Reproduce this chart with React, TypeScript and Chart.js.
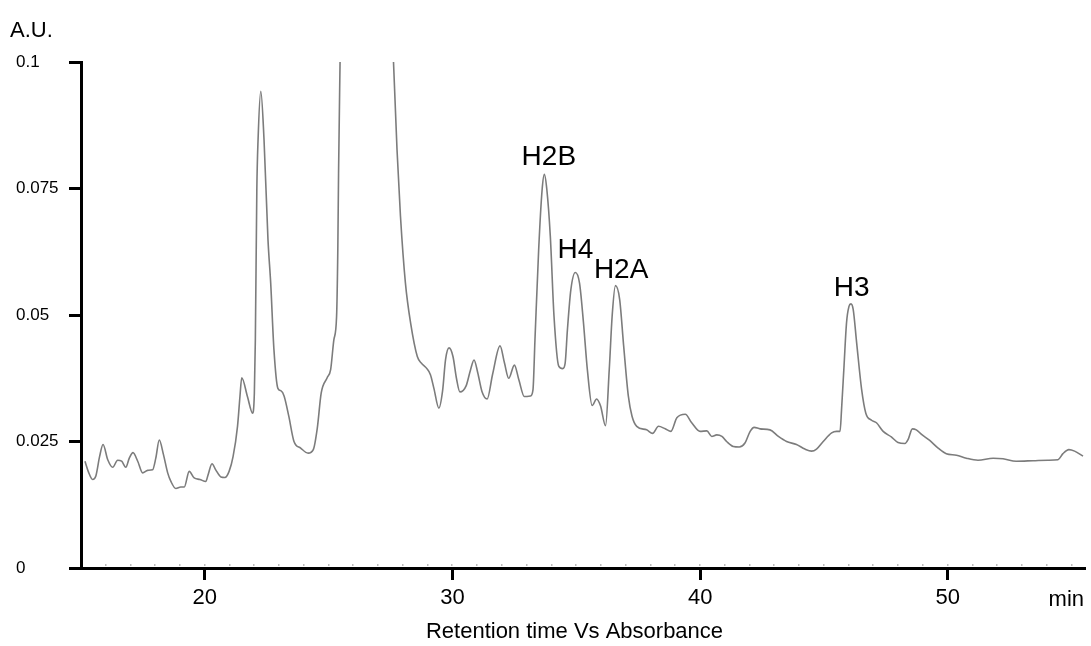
import React, { useEffect, useRef } from "react";
import { Chart, registerables } from "chart.js";

Chart.register(...registerables);

// Retention time (min)
const retentionTimes = [
  15.16, 15.3, 15.47, 15.6, 15.75, 15.89, 16.08, 16.28, 16.48, 16.64, 16.81, 16.95, 17.1, 17.29, 17.49, 17.69,
  17.89, 18.02, 18.16, 18.33, 18.5, 18.63, 18.83, 19.03, 19.17, 19.37, 19.57, 19.8, 20.04, 20.13, 20.29, 20.44,
  20.65, 20.81, 20.98, 21.14, 21.32, 21.42, 21.49, 21.72, 21.93, 22.0, 22.04, 22.1, 22.15, 22.26, 22.39, 22.55,
  22.66, 22.79, 22.95, 23.08, 23.2, 23.39, 23.6, 23.87, 24.17, 24.38, 24.54, 24.7, 24.94, 25.08, 25.21, 25.32,
  25.37, 25.4, 25.46, 25.55, 26.0, 26.5, 27.0, 27.45, 27.62, 27.76, 27.9, 28.1, 28.31, 28.58, 28.74, 28.95,
  29.11, 29.25, 29.45, 29.6, 29.72, 29.86, 30.02, 30.16, 30.3, 30.55, 30.73, 30.87, 31.02, 31.19, 31.4, 31.62,
  31.92, 32.1, 32.27, 32.5, 32.68, 32.9, 33.15, 33.25, 33.33, 33.48, 33.62, 33.71, 33.81, 33.95, 34.1, 34.29,
  34.45, 34.55, 34.64, 34.78, 34.96, 35.13, 35.28, 35.45, 35.64, 35.82, 35.98, 36.18, 36.33, 36.45, 36.58, 36.75,
  36.91, 37.1, 37.25, 37.44, 37.84, 38.08, 38.32, 38.59, 38.82, 39.06, 39.4, 39.66, 40.0, 40.27, 40.47, 40.67,
  40.88, 41.07, 41.34, 41.58, 41.81, 42.02, 42.18, 42.42, 42.82, 43.16, 43.49, 43.89, 44.23, 44.5, 44.7, 44.97,
  45.31, 45.51, 45.65, 45.71, 45.81, 45.91, 46.01, 46.09, 46.18, 46.32, 46.52, 46.69, 46.92, 47.12, 47.39, 47.72,
  47.99, 48.27, 48.4, 48.57, 48.73, 48.94, 49.27, 49.61, 49.94, 50.35, 50.75, 51.22, 51.83, 52.23, 52.76, 53.44,
  54.04, 54.45, 54.65, 54.89, 55.12, 55.46,
];

// Absorbance (A.U.)
const absorbance = [
  0.0211, 0.019, 0.0175, 0.0182, 0.022, 0.0244, 0.0214, 0.0199, 0.0213, 0.0211, 0.0199, 0.0217, 0.0228, 0.0211, 0.0188, 0.0193,
  0.0194, 0.0217, 0.0253, 0.0224, 0.0188, 0.0171, 0.0157, 0.016, 0.016, 0.0191, 0.0178, 0.0175, 0.0171, 0.0184, 0.0206, 0.0194,
  0.018, 0.0179, 0.0191, 0.022, 0.028, 0.034, 0.0376, 0.0339, 0.0306, 0.0346, 0.0451, 0.0748, 0.0847, 0.0942, 0.0847, 0.0649,
  0.0563, 0.0432, 0.0355, 0.035, 0.034, 0.03, 0.025, 0.0237, 0.0227, 0.0234, 0.0276, 0.0346, 0.0376, 0.0392, 0.0451, 0.0497,
  0.063, 0.078, 0.0998, 0.13, 0.19, 0.21, 0.18, 0.125, 0.0998, 0.0827, 0.0695, 0.0563, 0.0484, 0.0418, 0.0405, 0.0395,
  0.0382, 0.0355, 0.0316, 0.035, 0.0412, 0.0435, 0.0418, 0.0375, 0.0348, 0.036, 0.0392, 0.0411, 0.0386, 0.0349, 0.0334, 0.0383,
  0.0439, 0.0405, 0.0375, 0.0401, 0.0372, 0.0339, 0.034, 0.0352, 0.045, 0.0629, 0.0748, 0.0778, 0.0748, 0.0656, 0.0497, 0.0399,
  0.0394, 0.0405, 0.047, 0.055, 0.0584, 0.0563, 0.049, 0.039, 0.0321, 0.0334, 0.032, 0.0281, 0.0392, 0.05, 0.0558, 0.0531,
  0.044, 0.034, 0.03, 0.028, 0.0273, 0.0266, 0.028, 0.0275, 0.027, 0.0297, 0.0304, 0.0287, 0.027, 0.0271, 0.026, 0.0263,
  0.026, 0.025, 0.024, 0.0239, 0.0247, 0.027, 0.0278, 0.0275, 0.0273, 0.026, 0.025, 0.0244, 0.0235, 0.0231, 0.0235, 0.025,
  0.0267, 0.027, 0.027, 0.0313, 0.0399, 0.0484, 0.0517, 0.0522, 0.0511, 0.0445, 0.0353, 0.0306, 0.0292, 0.0287, 0.027, 0.0259,
  0.0248, 0.0246, 0.0254, 0.0275, 0.0273, 0.0264, 0.0252, 0.0237, 0.0226, 0.0223, 0.0217, 0.0213, 0.0217, 0.0216, 0.0211, 0.0212,
  0.0213, 0.0214, 0.0226, 0.0234, 0.0231, 0.0221,
];

const xTickValues = [20, 30, 40, 50];
const yTickValues = [0, 0.025, 0.05, 0.075, 0.1];
const yTickLabels = ["0", "0.025", "0.05", "0.075", "0.1"];

const peakLabels = ["H2B", "H4", "H2A", "H3"];
const peakLabelTimes = [33.89, 34.96, 36.81, 46.12];
const peakLabelLevels = [0.0797, 0.0613, 0.0574, 0.0537];

const yAxisUnit = "A.U.";
const xAxisUnit = "min";
const chartTitle = "Retention time Vs Absorbance";

const FONT = "'Liberation Sans', Arial, Helvetica, sans-serif";

export default function App() {
  const canvasRef = useRef<HTMLCanvasElement | null>(null);

  useEffect(() => {
    if (!canvasRef.current) return;

    const extras = {
      id: "extras",
      afterDraw(chart: any) {
        const { ctx, chartArea, scales } = chart;
        const xs = scales.x;
        const ys = scales.y;
        ctx.save();
        // minor tick dots
        ctx.fillStyle = "#bdbdbd";
        for (let m = 16; m <= 55; m++) {
          const px = xs.getPixelForValue(m);
          ctx.fillRect(Math.round(px) - 1, chartArea.bottom - 4, 1.5, 2);
        }
        ctx.fillStyle = "#000";
        ctx.textBaseline = "alphabetic";
        ctx.font = `22px ${FONT}`;
        ctx.textAlign = "left";
        ctx.fillText(yAxisUnit, 10, 37);
        ctx.textAlign = "right";
        ctx.fillText(xAxisUnit, chart.width - 7, 606);
        ctx.textAlign = "center";
        ctx.fillText(chartTitle, 574.5, 638);
        ctx.font = `28px ${FONT}`;
        peakLabels.forEach((lab, i) => {
          ctx.fillText(lab, xs.getPixelForValue(peakLabelTimes[i]), ys.getPixelForValue(peakLabelLevels[i]));
        });
        ctx.restore();
      },
    };

    const chart = new Chart(canvasRef.current, {
      type: "line",
      data: {
        datasets: [
          {
            data: retentionTimes.map((t, i) => ({ x: t, y: absorbance[i] })),
            borderColor: "#7c7c7c",
            borderWidth: 1.6,
            pointRadius: 0,
            fill: false,
            cubicInterpolationMode: "monotone",
          },
        ],
      },
      options: {
        animation: false,
        responsive: true,
        maintainAspectRatio: false,
        layout: { padding: { left: 16, right: 7, top: 62, bottom: 0 } },
        plugins: { legend: { display: false }, tooltip: { enabled: false } },
        scales: {
          x: {
            type: "linear",
            min: 15,
            max: 55.5,
            afterFit: (scale: any) => {
              scale.height = 78;
            },
            afterBuildTicks: (scale: any) => {
              scale.ticks = xTickValues.map((v) => ({ value: v }));
            },
            ticks: {
              color: "#000",
              font: { family: FONT, size: 22 },
              padding: 5,
              maxRotation: 0,
              callback: (v: any) => String(v),
            },
            grid: {
              display: true,
              drawOnChartArea: false,
              drawTicks: true,
              tickLength: 12,
              color: "#000",
              lineWidth: 3,
            },
            border: { display: true, color: "#000", width: 3 },
          },
          y: {
            type: "linear",
            min: 0,
            max: 0.1,
            afterFit: (scale: any) => {
              scale.width = 65;
            },
            afterBuildTicks: (scale: any) => {
              scale.ticks = yTickValues.map((v) => ({ value: v }));
            },
            ticks: {
              color: "#000",
              font: { family: FONT, size: 17 },
              crossAlign: "far",
              padding: 4,
              callback: (v: any) => {
                const idx = yTickValues.indexOf(v);
                return idx >= 0 ? yTickLabels[idx] : "";
              },
            },
            grid: {
              display: true,
              drawOnChartArea: false,
              drawTicks: true,
              tickLength: 12,
              color: "#000",
              lineWidth: 3,
            },
            border: { display: true, color: "#000", width: 3 },
          },
        },
      },
      plugins: [extras],
    });

    return () => chart.destroy();
  }, []);

  return (
    <div style={{ position: "absolute", left: 0, top: 0, width: 1091, height: 646, background: "#fff" }}>
      <canvas ref={canvasRef} />
    </div>
  );
}
